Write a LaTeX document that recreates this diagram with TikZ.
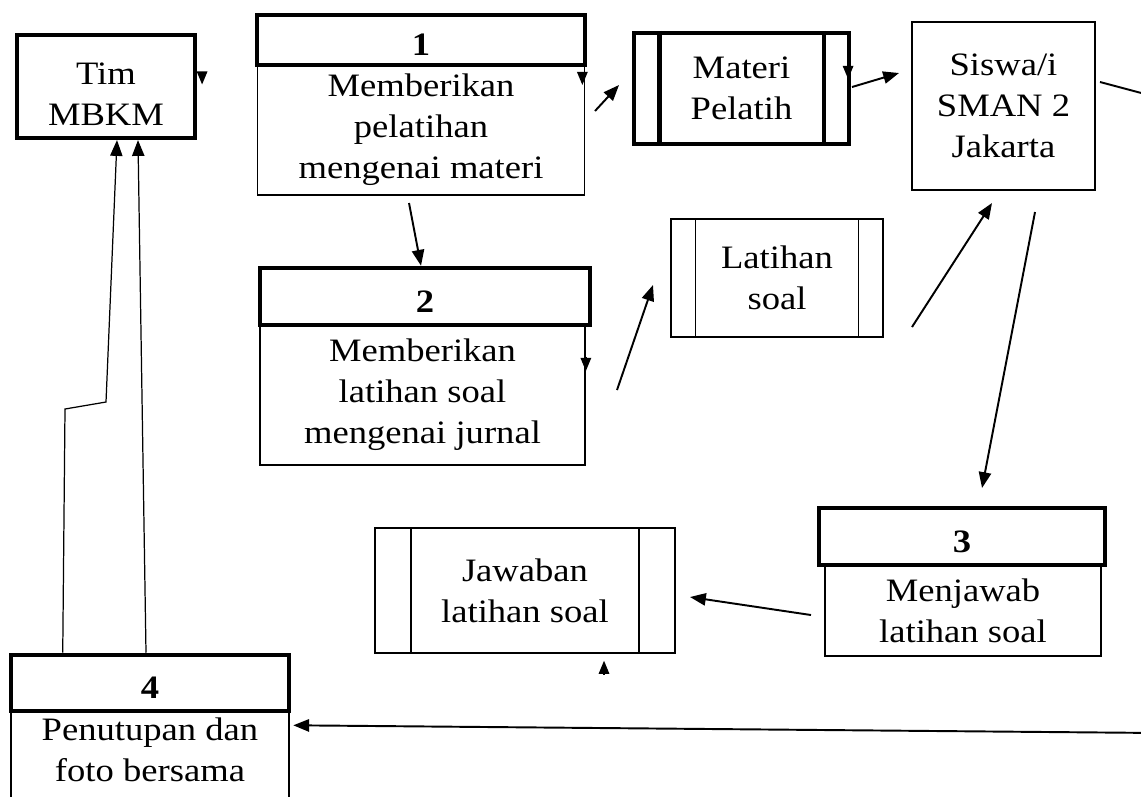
\documentclass[tikz,border=0pt]{standalone}
\usepackage{fontspec}
\setmainfont{Liberation Serif}[FakeStretch=1.12]
\usetikzlibrary{arrows.meta}

\tikzset{entitas/.style={draw,line width=2.4pt,align=center,inner sep=0pt}, %entitas luar
	luar/.style={draw,line width=1.3pt,align=center,inner sep=0pt},
	kepala/.style={draw,line width=2.6pt,inner sep=0pt,text height=0.62cm,text depth=0pt,font=\fontsize{18.6}{22}\selectfont\bfseries},
	isi/.style={draw,line width=1pt,align=center,inner sep=0pt},
	simpan/.style={draw,line width=0.8pt,align=center,inner sep=0pt},
	panah/.style={line width=1.1pt,-{Triangle[length=9pt,width=7pt]}},
	ujung/.style={line width=0.8pt,-{Triangle[length=7.5pt,width=6pt]}},
	tipis/.style={line width=0.7pt}}

\begin{document}
\begin{tikzpicture}[x=0.02cm,y=-0.02cm,font=\fontsize{18.6}{23.3}\selectfont]

\clip (0,0) rectangle (1141,796);

	%entitas luar
	\node[entitas,minimum width=3.56cm,minimum height=2.06cm] (tim) at (106,86.5) {};
	\node[align=center,inner sep=0pt] (tim-teks) at ([yshift=-0.16cm]tim.center) {Tim\\MBKM};
	\node[luar,minimum width=3.66cm,minimum height=3.36cm] (siswa) at (1003.5,106) {Siswa/i\\SMAN 2\\Jakarta};

	%proses 1
	\node[isi,minimum width=6.54cm,minimum height=2.6cm] (p1) at (421,130) {Memberikan\\pelatihan\\mengenai materi};
	\node[kepala,minimum width=6.56cm,minimum height=1cm] (p1h) at (421,40) {1};

	%proses 2
	\node[isi,minimum width=6.5cm,minimum height=2.8cm] (p2) at (422.5,395) {Memberikan\\latihan soal\\mengenai jurnal};
	\node[kepala,minimum width=6.6cm,minimum height=1.14cm] (p2h) at (425,296.5) {2};

	%proses 3
	\node[isi,minimum width=5.52cm,minimum height=1.82cm] (p3) at (963,610.5) {Menjawab\\latihan soal};
	\node[kepala,minimum width=5.72cm,minimum height=1.14cm] (p3h) at (962,536.5) {3};

	%proses 4 (terpotong di bawah)
	\node[align=center,inner sep=0pt,minimum width=5.56cm,minimum height=1.56cm] (p4) at (150,750) {Penutupan dan\\foto bersama};
	\draw[line width=1pt] (p4.north west) -- ++(0,120) (p4.north east) -- ++(0,120);
	\node[kepala,minimum width=5.56cm,minimum height=1.12cm] (p4h) at (150,683) {4};

	%penyimpanan data
	\node[simpan,line width=2.4pt,minimum width=4.3cm,minimum height=2.22cm] (materi) at (741.5,88.5) {Materi\\Pelatih};
	\node[simpan,minimum width=4.24cm,minimum height=2.36cm] (latihan) at (777,278) {Latihan\\soal};
	\node[simpan,minimum width=6cm,minimum height=2.5cm] (jawaban) at (525,590.5) {Jawaban\\latihan soal};
	\foreach \n/\d/\w in {materi/0.55cm/2.4pt,latihan/0.5cm/0.8pt,jawaban/0.73cm/0.8pt}
		\draw[line width=\w] ([xshift=\d]\n.north west) -- ([xshift=\d]\n.south west)
			([xshift=-\d]\n.north east) -- ([xshift=-\d]\n.south east);

	%titik bebas
	\coordinate (dari-p1) at (595,111);
	\coordinate (ke-materi) at (619,85);
	\coordinate (dari-materi) at (852,87);
	\coordinate (ke-siswa1) at (899,73);
	\coordinate (p1-bawah) at (409,203);
	\coordinate (dari-p2) at (617,390);
	\coordinate (ke-latihan) at (653,285);
	\coordinate (dari-latihan) at (912,327);
	\coordinate (ke-siswa2) at (992,203);
	\coordinate (dari-siswa) at (1035,212);
	\coordinate (ke-p3) at (982,488);
	\coordinate (dari-p3) at (811,615);
	\coordinate (ke-jawaban) at (690,597);
	\coordinate (siswa-kanan) at (1100,82);
	\coordinate (tepi-atas) at (1160,98);
	\coordinate (tepi-bawah) at (1160,733);
	\coordinate (belok1) at (65,409);
	\coordinate (belok2) at (106,402);

	%aliran
	\draw[panah] (dari-p1) -- (ke-materi);
	\draw[panah] (dari-materi) -- (ke-siswa1);
	\draw[panah] (p1-bawah) -- ([xshift=-0.08cm]p2h.north);
	\draw[panah] (dari-p2) -- (ke-latihan);
	\draw[panah] (dari-latihan) -- (ke-siswa2);
	\draw[panah] (dari-siswa) -- (ke-p3);
	\draw[panah] (dari-p3) -- (ke-jawaban);
	\draw[line width=1.1pt] (siswa-kanan) -- (tepi-atas);
	\draw[panah] (tepi-bawah) -- ([shift={(2,12)}]p4h.south east);

	%kembali ke Tim MBKM
	\draw[panah,tipis] ([xshift=-0.08cm]p4h.north) -- ([xshift=0.64cm]tim.south);
	\draw[panah,tipis] ([xshift=1.08cm]p4h.north west) -- (belok1) -- (belok2) -- ([xshift=0.22cm]tim.south);

	%ujung panah lepas
	\draw[ujung] ([shift={(5,-15)}]tim.east) -- ++(0,13);
	\draw[ujung] ([shift={(-3,-58)}]p1.east) -- ++(0,13);
	\draw[ujung] ([shift={(-3,-23.5)}]materi.east) -- ++(0,14);
	\draw[ujung] ([shift={(0,-38)}]p2.east) -- ++(0,14);
	\draw[ujung] ([shift={(79,21)}]jawaban.south) -- ++(0,-14);

\end{tikzpicture}
\end{document}
